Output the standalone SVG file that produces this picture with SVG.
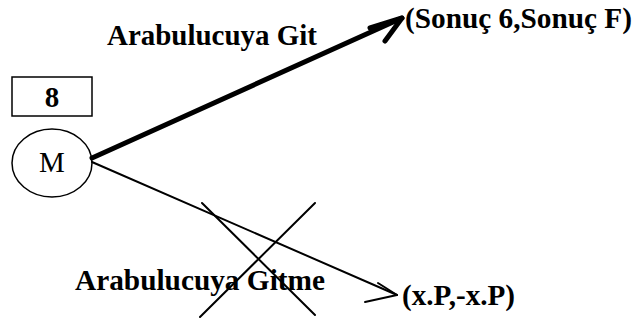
<svg xmlns="http://www.w3.org/2000/svg" width="636" height="322" viewBox="0 0 636 322">
<style>
.b{font-family:"Liberation Serif","Times New Roman",serif;font-weight:bold;fill:#000;font-size:29px}
.r{font-family:"Liberation Serif","Times New Roman",serif;fill:#000;font-size:29px}
.ln{stroke:#000;fill:none;stroke-linecap:round;stroke-linejoin:round}
</style>
<rect width="636" height="322" fill="#fff"/>
<g id="payoff-box">
<rect x="12" y="77" width="80" height="39" fill="#fff" stroke="#000" stroke-width="1.5"/>
<text class="b" x="52" y="107" text-anchor="middle">8</text>
</g>
<g id="node-M">
<ellipse cx="52" cy="163" rx="40" ry="34" fill="#fff" stroke="#000" stroke-width="1.5"/>
<text class="r" x="52" y="172" text-anchor="middle">M</text>
</g>
<g id="connectors">
<path class="ln" d="M92 158 L402 18" stroke-width="5"/>
<path class="ln" d="M370 28 L402 18 L385 41" stroke-width="5"/>
<path class="ln" d="M92 162 L397 295" stroke-width="2"/>
<path class="ln" d="M378 283 L397 295 L365 302" stroke-width="2"/>
<path class="ln" d="M202 203 L315 315 M315 203 L200 317" stroke-width="2"/>
</g>
<g id="outcome-top">
<text class="b" x="405" y="28" textLength="227" lengthAdjust="spacingAndGlyphs">(Sonuç 6,Sonuç F)</text>
</g>
<g id="outcome-bottom">
<text class="b" x="402" y="305" textLength="113" lengthAdjust="spacingAndGlyphs">(x.P,-x.P)</text>
</g>
<g id="labels">
<text class="b" x="107" y="45" textLength="210" lengthAdjust="spacingAndGlyphs">Arabulucuya Git</text>
<text class="b" x="75" y="290" textLength="250" lengthAdjust="spacingAndGlyphs">Arabulucuya Gitme</text>
</g>
</svg>
